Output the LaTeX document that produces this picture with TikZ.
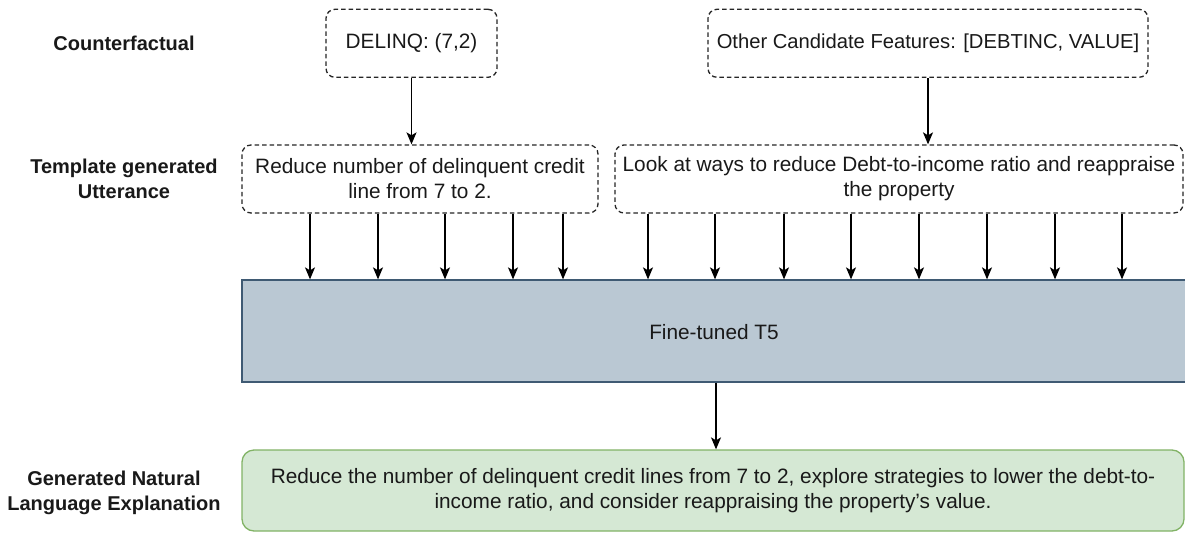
\documentclass[tikz,border=0pt]{standalone}
\usepackage{fontspec}
\setmainfont{Liberation Sans}
\usetikzlibrary{arrows.meta,calc}
\definecolor{tfill}{HTML}{BAC8D3}
\definecolor{tdraw}{HTML}{3F5A73}
\definecolor{gfill}{HTML}{D5E8D4}
\definecolor{gdraw}{HTML}{82B366}
\begin{document}
\begin{tikzpicture}[x=1pt,y=-1pt,
  txt/.style={font=\fontsize{20.8}{25}\selectfont, text=black!90, align=center},
  lbl/.style={font=\fontsize{20}{25}\selectfont\bfseries, text=black!90, align=center},
  dbox/.style={txt, draw=black!85, line width=1.3pt, dash pattern=on 4.5pt off 3pt, rounded corners=9pt, inner sep=0pt},
  arr/.style={draw=black, line width=1.3pt, -{Stealth[length=12pt,width=10pt,inset=3pt]}},
]
\clip (0,0) rectangle (1185,533);
\fill[white] (0,0) rectangle (1185,533);

% row labels
\node[lbl] (lc) at (124,43.3) {Counterfactual};
\node[lbl] (lt) at (124,178.5) {Template generated\\Utterance};
\node[lbl] (lg) at (114,492.5) {Generated Natural\\Language Explanation};

% counterfactual boxes
\node[dbox, minimum width=171pt, minimum height=68pt] (d) at (411.5,43.3) {DELINQ: (7,2)};
\node[dbox, font=\fontsize{20.2}{25}\selectfont, minimum width=440pt, minimum height=68pt] (o) at (928,43.3) {Other Candidate Features: [DEBTINC, VALUE]};

% template utterances
\node[dbox, minimum width=356pt, minimum height=68pt] (t1) at (420,179) {Reduce number of delinquent credit\\line from 7 to 2.};
\node[dbox, minimum width=568pt, minimum height=68pt] (t2) at (899,179) {Look at ways to reduce Debt-to-income ratio and reappraise\\the property};

% model
\node[draw=tdraw, fill=tfill, line width=1.3pt, minimum width=958pt, minimum height=102pt, inner sep=0pt] (t5) at (721,331) {};
\node[txt] (t5l) at (714,332) {Fine-tuned T5};

% output
\node[txt, draw=gdraw, fill=gfill, line width=1.3pt, rounded corners=12pt, minimum width=942pt, minimum height=81pt, inner sep=0pt] (g) at (713,490.5) {Reduce the number of delinquent credit lines from 7 to 2, explore strategies to lower the debt-to-\\income ratio, and consider reappraising the property’s value.};

% connectors
\draw[arr] (d.south) -- (t1.north -| d.south);
\draw[arr] (o.south) -- (t2.north -| o.south);
\foreach \x [count=\i] in {310,378,445,513,563} {
  \coordinate (a\i) at (\x,0);
  \draw[arr] (t1.south -| a\i) -- (t5.north -| a\i);
}
\foreach \x [count=\i] in {648,715,784,851,919,987,1055,1122} {
  \coordinate (b\i) at (\x,0);
  \draw[arr] (t2.south -| b\i) -- (t5.north -| b\i);
}
\coordinate (m) at (716,0);
\draw[arr] (t5.south -| m) -- (g.north -| m);
\end{tikzpicture}
\end{document}
